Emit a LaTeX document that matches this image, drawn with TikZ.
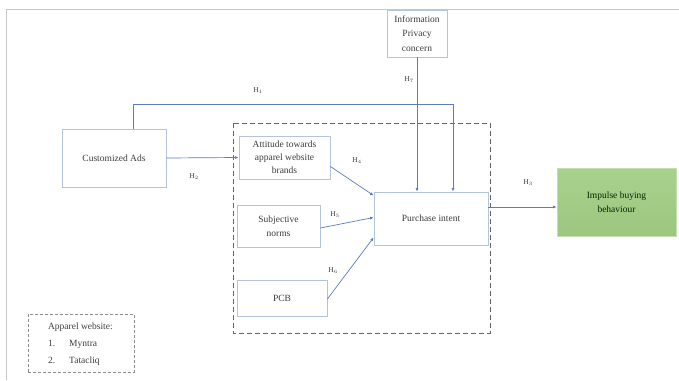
\documentclass[tikz,border=0pt]{standalone}
\usepackage{fontspec}
\setmainfont{Liberation Serif}
\usetikzlibrary{arrows.meta}
\definecolor{boxline}{HTML}{B4C4DA}
\definecolor{conn}{HTML}{5B7DBE}
\definecolor{txt}{HTML}{3C3C3C}
\definecolor{green1}{HTML}{A9D18E}
\definecolor{green2}{HTML}{9CC77F}
\tikzset{
  box/.style={draw=boxline, line width=0.8pt, fill=white, text=txt, align=center, font=\fontsize{9.5}{14.5}\selectfont, inner sep=1pt},
  connline/.style={draw=conn, line width=0.7pt, -{Latex[length=3.5pt,width=3pt]}},
  hlab/.style={text=txt, font=\fontsize{7.5}{9}\selectfont, inner sep=0pt},
}
\begin{document}
\begin{tikzpicture}[x=1pt,y=-1pt]
\useasboundingbox (0,0) rectangle (679,380);
% frame
\draw[black!22, line width=1pt] (679,9) -- (6,9) -- (6,380);
% dashed group
\draw[black!60, line width=0.8pt, dash pattern=on 5pt off 3pt] (233,123) rectangle (490,333);
% nodes
\node[box, minimum width=60, minimum height=47] (info) at (417,33.5) {Information\\Privacy\\concern};
\node[box, minimum width=104, minimum height=58] (ads) at (114,158) {Customized Ads};
\node[box, minimum width=91, minimum height=43, font=\fontsize{9.5}{13}\selectfont] (att) at (284.5,157.5) {Attitude towards\\apparel website\\brands};
\node[box, minimum width=83, minimum height=42] (sn) at (278.5,226) {Subjective\\norms};
\node[box, minimum width=90, minimum height=36] (pcb) at (282,298) {PCB};
\node[box, minimum width=114, minimum height=53] (pi) at (431,218.5) {Purchase intent};
\node[box, draw=green1!70!white, top color=green1, bottom color=green2, text=black!75!green!60!black, minimum width=119, minimum height=68] (ib) at (616.5,202) {Impulse buying\\behaviour};
\node[draw=black!45, densely dashed, line width=0.8pt, text=txt, align=left, anchor=north west, minimum width=106, minimum height=58, inner sep=0pt, font=\fontsize{9.5}{17}\selectfont] (leg) at (28,314) {\hspace{4pt}\begin{tabular}{@{}l@{\hspace{14pt}}l@{}}\multicolumn{2}{@{}l}{Apparel website:}\\1. & Myntra\\2. & Tatacliq\end{tabular}};
% connectors
\coordinate (h1c) at (453,104);
\draw[connline] ([xshift=19]ads.north) |- (h1c) -- (h1c |- pi.north);
\draw[connline] (info.south) -- (info.south |- pi.north);
\draw[connline] (ads.east) -- (att.west);
\draw[connline] ([yshift=-9]att.east) -- ([yshift=23]pi.west);
\draw[connline] ([yshift=-2]sn.east) -- ([yshift=1]pi.west);
\draw[connline] ([yshift=-1]pcb.east) -- ([yshift=-19]pi.west);
\coordinate (piout) at (pi.east |- 0,207);
\draw[connline] (piout) -- (piout -| ib.west);
% labels
\node[hlab] (l1) at (258,91) {H$_1$};
\node[hlab] (l2) at (194,177) {H$_2$};
\node[hlab] (l3) at (528,183) {H$_3$};
\node[hlab] (l4) at (357,161) {H$_4$};
\node[hlab] (l5) at (335,215) {H$_5$};
\node[hlab] (l6) at (333,271) {H$_6$};
\node[hlab] (l7) at (409,80) {H$_7$};
\end{tikzpicture}
\end{document}
